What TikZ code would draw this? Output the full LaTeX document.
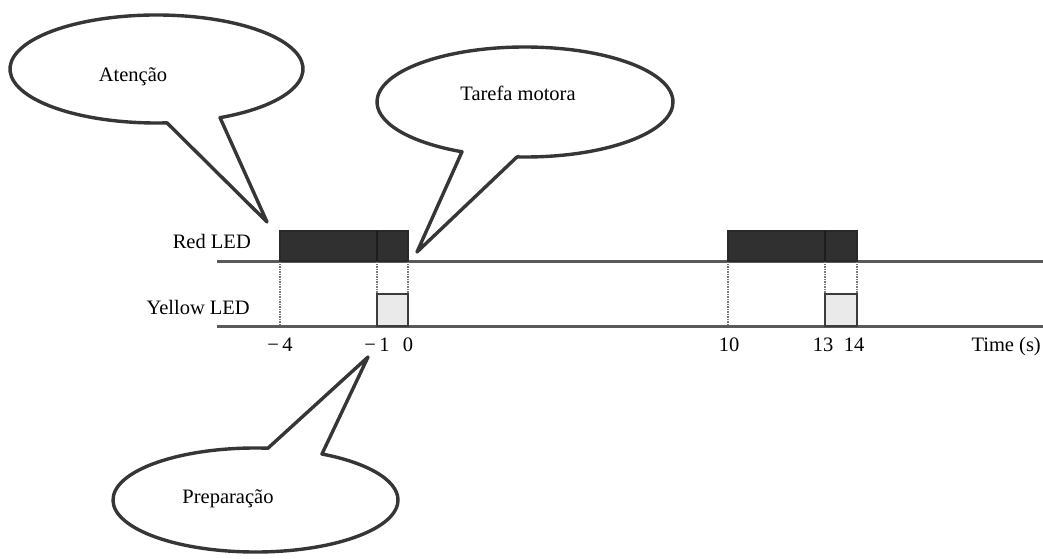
\documentclass[tikz,border=0pt]{standalone}
\usepackage{fontspec}
\setmainfont{Liberation Serif}
\definecolor{bubbleline}{HTML}{363636}
\definecolor{baseline}{HTML}{5A5A5A}
\definecolor{redfill}{HTML}{303030}
\definecolor{yelfill}{HTML}{EAEAEA}
\definecolor{yelline}{HTML}{3C3C3C}
\definecolor{guideline}{HTML}{7A7A7A}
\begin{document}
\begin{tikzpicture}[x=1pt,y=1pt,
  bubble/.style={draw=bubbleline, line width=3.4pt, line join=round, fill=white},
  lbl/.style={font=\fontsize{20.5}{24}\selectfont, inner sep=0pt},
  trace/.style={draw=baseline, line width=3pt},
  guide/.style={draw=guideline, line width=1.5pt, densely dotted},
  redbox/.style={fill=redfill, draw=redfill!85!black, line width=1.6pt},
  splitline/.style={draw=redfill!60!black, line width=1.4pt},
  yelbox/.style={fill=yelfill, draw=yelline, line width=2.4pt}]
\useasboundingbox (0,0) rectangle (1043,558);

% --- speech bubbles: elliptic outline opened where the tail leaves it
\draw[bubble] (267,336) -- ([shift={(156.5,489)}]-64.3:146.5 and 54)
  arc[start angle=-64.3, end angle=274.1, x radius=146.5, y radius=54] -- cycle;
\draw[bubble] (417,306) -- ([shift={(525,456)}]266.9:148 and 55)
  arc[start angle=266.9, end angle=604.8, x radius=148, y radius=55] -- cycle;
\draw[bubble] (368,201) -- ([shift={(255.5,58)}]85:142.5 and 52)
  arc[start angle=85, end angle=422.2, x radius=142.5, y radius=52] -- cycle;

\node[lbl, anchor=base] (atencao) at (133,476) {Atenção};
\node[lbl, anchor=base] (tarefa) at (518,457) {Tarefa motora};
\node[lbl, anchor=base] (prep) at (228,55) {Preparação};

% --- signal traces
\coordinate (redstart) at (217,297);
\coordinate (redend) at (1043,297);
\coordinate (yelstart) at (217,232);
\coordinate (yelend) at (1043,232);
\draw[trace] (redstart) -- (redend);
\draw[trace] (yelstart) -- (yelend);

\node[lbl, anchor=base east] (redlbl) at (251,310) {Red LED};
\node[lbl, anchor=base east] (yellbl) at (250,244) {Yellow LED};

% --- pulses: red on from a to c, yellow on from b to c
\foreach \a/\b/\c in {280/377/408, 728/825/857}{
  \draw[guide] (\a,297) -- (\a,232);
  \draw[guide] (\b,297) -- (\b,264);
  \draw[guide] (\c,297) -- (\c,264);
  \draw[redbox] (\a,297) rectangle (\c,327);
  \draw[splitline] (\b,297) -- (\b,327);
  \draw[yelbox] (\b,232) rectangle (\c,264);
}

% --- time axis labels
\node[lbl, anchor=base] (tm4) at (280,207) {−\,4};
\node[lbl, anchor=base] (tm1) at (377,207) {−\,1};
\node[lbl, anchor=base] (t0) at (408,207) {0};
\node[lbl, anchor=base] (t10) at (729,207) {10};
\node[lbl, anchor=base] (t13) at (823,207) {13};
\node[lbl, anchor=base] (t14) at (854,207) {14};
\node[lbl, anchor=base east] (tunit) at (1041,207) {Time (s)};
\end{tikzpicture}
\end{document}
